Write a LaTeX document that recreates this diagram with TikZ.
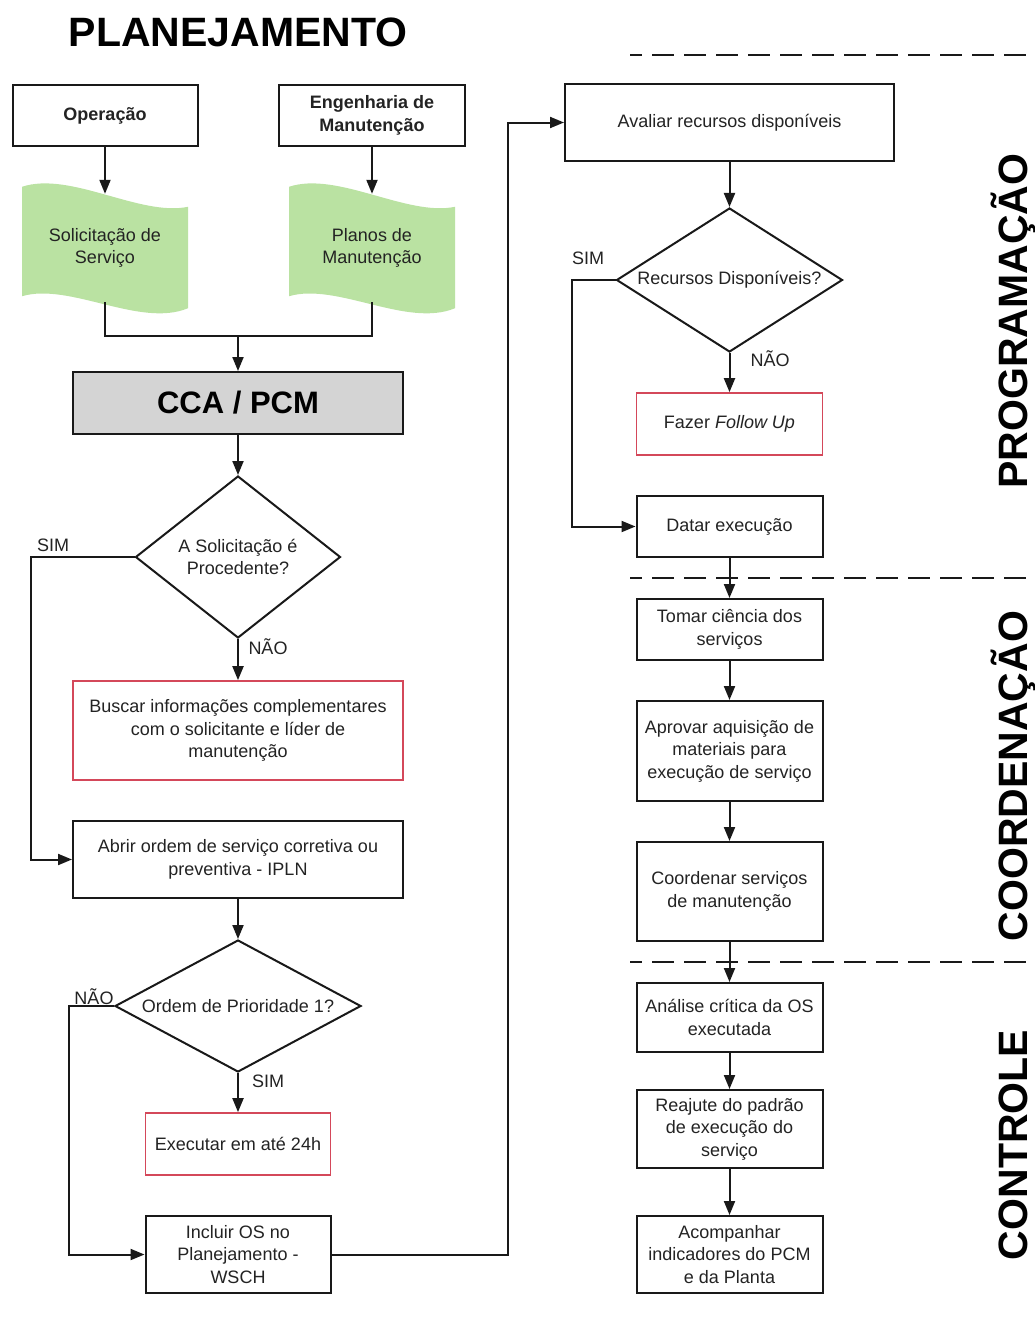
\documentclass[tikz,border=0pt]{standalone}
\usepackage{fontspec}
\setmainfont{Liberation Sans}
\usetikzlibrary{arrows.meta,shapes.geometric,calc,backgrounds}
\definecolor{ink}{RGB}{25,25,25}
\definecolor{txt}{RGB}{35,35,35}
\definecolor{docgreen}{RGB}{186,226,162}
\definecolor{alert}{RGB}{212,72,90}
\definecolor{ccagray}{RGB}{212,212,212}
\newcommand\bodysize{\fontsize{18pt}{22.5pt}\selectfont}
\begin{document}
\begin{tikzpicture}[x=1pt,y=-1pt,
  every node/.style={font=\bodysize, text=txt},
  box/.style={draw=ink, line width=2pt, inner sep=0pt, align=center},
  redbox/.style={draw=alert, line width=1.7pt, inner sep=0pt, align=center},
  dia/.style={diamond, draw=ink, line width=2pt, inner sep=0pt},
  doc/.style={inner sep=0pt, align=center},
  sz/.style 2 args={minimum width=#1pt, minimum height=#2pt},
  arr/.style={draw=ink, line width=2pt, -{Triangle[length=14pt,width=11pt]}},
  link/.style={draw=ink, line width=2pt},
  sep/.style={draw=ink, line width=2pt, dash pattern=on 22pt off 10pt, dash phase=10pt},
  phase/.style={font=\fontsize{41pt}{41pt}\selectfont\bfseries, text=black,
    rotate=90, anchor=base, inner sep=0pt},
]
\path[use as bounding box] (0,0) rectangle (1035,1317);

% title
\node[font=\fontsize{41pt}{41pt}\selectfont\bfseries, text=black] (title) at (238,32) {PLANEJAMENTO};

% sources
\node[box, sz={185}{61}, font=\bodysize\bfseries] (op) at (105,115.5) {Operação};
\node[box, sz={186}{61}, font=\bodysize\bfseries] (eng) at (372,115.5) {Engenharia de\\Manutenção};

% documents with wavy top and bottom edges
\node[doc, sz={166}{108}] (sol) at (105,248) {Solicitação de\\Serviço};
\node[doc, sz={166}{108}] (plan) at (372,248) {Planos de\\Manutenção};
\begin{scope}[on background layer]
\fill[white] (0,0) rectangle (1035,1317);
\foreach \n in {sol,plan} {
  \fill[docgreen] ($(\n.north)+(-83,-7)$) .. controls ($(\n.north)+(-35,-23)$) and ($(\n.north)+(35,23)$) .. ($(\n.north)+(83,13)$)
    -- ($(\n.south)+(83,6)$) .. controls ($(\n.south)+(35,26)$) and ($(\n.south)+(-35,-20)$) .. ($(\n.south)+(-83,-6)$) -- cycle;
}
\end{scope}

% left column
\node[box, sz={330}{62}, fill=ccagray, font=\fontsize{31pt}{31pt}\selectfont\bfseries, text=black] (cca) at (238,403) {CCA / PCM};
\node[dia, sz={205}{162}, label={[align=center]center:A Solicitação é\\Procedente?}] (d1) at (238,557) {};
\node[redbox, sz={330}{99}] (busc) at (238,730.5) {Buscar informações complementares\\com o solicitante e líder de\\manutenção};
\node[box, sz={330}{77}] (abrir) at (238,859.5) {Abrir ordem de serviço corretiva ou\\preventiva - IPLN};
\node[dia, sz={246}{132}, label={center:Ordem de Prioridade 1?}] (d2) at (238,1006) {};
\node[redbox, sz={185}{62}] (exec) at (238,1144) {Executar em até 24h};
\node[box, sz={185}{77}] (incl) at (238,1254.5) {Incluir OS no\\Planejamento -\\WSCH};

% right column
\node[box, sz={329}{77}] (aval) at (729.5,122.5) {Avaliar recursos disponíveis};
\node[dia, sz={226}{144}, label={center:Recursos Disponíveis?}] (d3) at (729.5,280) {};
\node[redbox, sz={186}{62}] (fol) at (729.5,424) {Fazer \textit{Follow Up}};
\node[box, sz={186}{61}] (dat) at (729.5,526.5) {Datar execução};
\node[box, sz={186}{61}] (tom) at (729.5,629.5) {Tomar ciência dos\\serviços};
\node[box, sz={186}{100}] (apr) at (729.5,751) {Aprovar aquisição de\\materiais para\\execução de serviço};
\node[box, sz={186}{99}] (coo) at (729.5,891.5) {Coordenar serviços\\de manutenção};
\node[box, sz={186}{69}] (ana) at (729.5,1017.5) {Análise crítica da OS\\executada};
\node[box, sz={186}{78}] (rea) at (729.5,1129) {Reajute do padrão\\de execução do\\serviço};
\node[box, sz={186}{77}] (aco) at (729.5,1254.5) {Acompanhar\\indicadores do PCM\\e da Planta};

% branch labels
\node (ysim1) at (53,545) {SIM};
\node (nno1) at (268,647) {NÃO};
\node (nno2) at (94,997) {NÃO};
\node (ysim2) at (268,1081) {SIM};
\node (ysim3) at (588,258) {SIM};
\node (nno3) at (770,359) {NÃO};

% phase separators and titles
\draw[sep] (630,55) -- (1035,55);
\draw[sep] (630,578) -- (1035,578);
\draw[sep] (630,962) -- (1035,962);
\node[phase] (prog) at (1027,321) {PROGRAMAÇÃO};
\node[phase] (coord) at (1027,776) {COORDENAÇÃO};
\node[phase] (ctrl) at (1027,1145) {CONTROLE};

% connectors
\draw[arr] (op) -- (sol);
\draw[arr] (eng) -- (plan);
\coordinate (merge) at (238,336);
\draw[link] (sol.south) -- ++(0,34) -| (plan.south);
\draw[arr] (merge) -- (cca);
\draw[arr] (cca) -- (d1);
\draw[arr] (d1.west) -- ++(-104,0) |- (abrir.west);
\draw[arr] (d1.south) -- (busc);
\draw[arr] (abrir) -- (d2);
\draw[arr] (d2.west) -- ++(-45,0) |- (incl.west);
\draw[arr] (d2.south) -- (exec);
\draw[arr] (incl.east) -- ++(176,0) |- (aval.west);
\draw[arr] (aval) -- (d3);
\draw[arr] (d3.west) -- ++(-44,0) |- (dat.west);
\draw[arr] (d3.south) -- (fol);
\draw[arr] (dat) -- (tom);
\draw[arr] (tom) -- (apr);
\draw[arr] (apr) -- (coo);
\draw[arr] (coo) -- (ana);
\draw[arr] (ana) -- (rea);
\draw[arr] (rea) -- (aco);
\end{tikzpicture}
\end{document}
